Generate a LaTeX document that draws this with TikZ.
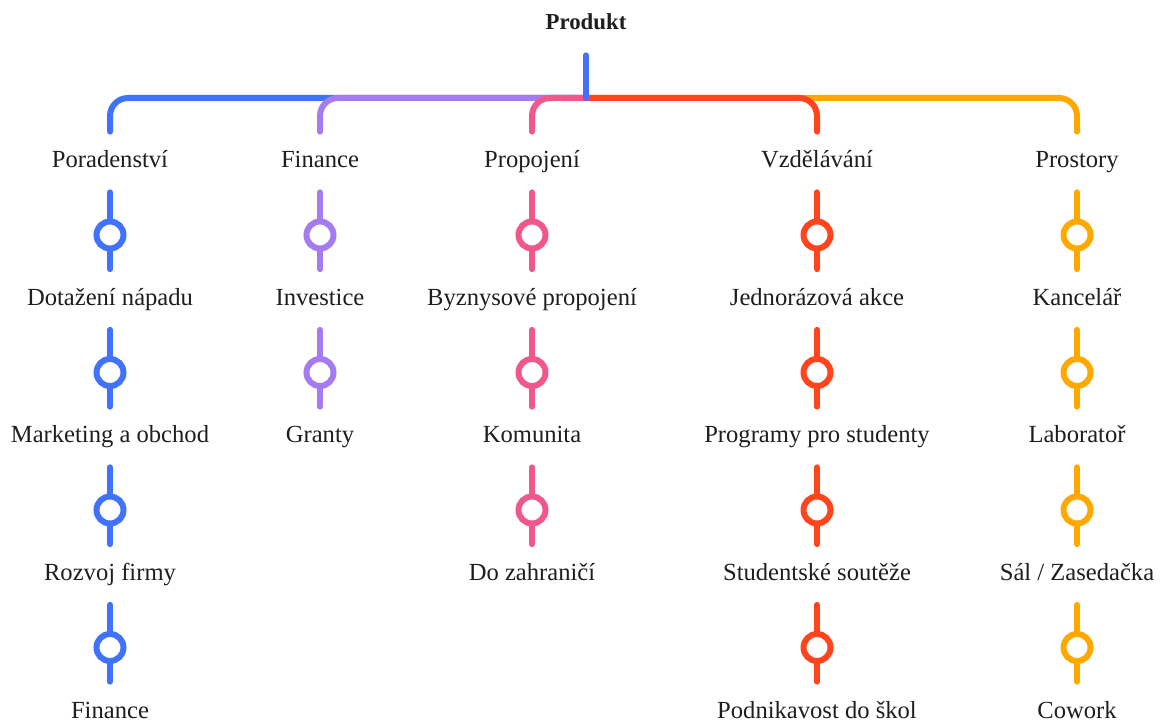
\documentclass[tikz,border=0pt]{standalone}
\usepackage{fontspec}
\setmainfont{Liberation Serif}
\usepackage{tikz}
\usepackage{xcolor}

\definecolor{cblue}{RGB}{64,114,252}
\definecolor{cpurple}{RGB}{164,124,240}
\definecolor{cpink}{RGB}{240,88,140}
\definecolor{cred}{RGB}{255,68,30}
\definecolor{corange}{RGB}{255,168,0}
\definecolor{ctext}{RGB}{30,30,30}

\begin{document}
\begin{tikzpicture}[x=0.02cm, y=-0.02cm,
    lbl/.style={inner sep=0, text height=0.72cm, text depth=0.48cm, text=ctext, font=\fontsize{14}{16}\selectfont},
    rootlbl/.style={inner sep=0, text height=0.74cm, text depth=0.5cm, text=ctext, font=\fontsize{13}{15}\selectfont\bfseries},
    wire/.style={line width=0.12cm, line cap=round},
    branch/.style={wire, rounded corners=0.36cm},
    pin/.style={circle, fill=white, line width=0.12cm, inner sep=0, minimum size=0.54cm}]
\useasboundingbox (0,0) rectangle (1165,722);

% root and top bar
\node [rootlbl] (root) at (586,24) {Produkt};
\coordinate (hub) at (586,98);

\node [lbl] (pora) at (110,162) {Poradenství};
\node [lbl] (fin) at (320,162) {Finance};
\node [lbl] (prop) at (532,162) {Propojení};
\node [lbl] (vzd) at (817,162) {Vzdělávání};
\node [lbl] (pros) at (1077,162) {Prostory};

\draw [branch, corange] (hub) -| (pros.north);
\draw [branch, cred] (hub) -| (vzd.north);
\draw [branch, cblue] (hub) -| (pora.north);
\draw [branch, cpurple] (hub) -| (fin.north);
\draw [branch, cpink] (hub) -| (prop.north);
\draw [wire, cblue] (root.south) -- (hub);

% Poradenstvi
\node [lbl] (pora1) at (110,299.5) {Dotažení nápadu};
\node [lbl] (pora2) at (110,437) {Marketing a obchod};
\node [lbl] (pora3) at (110,574.5) {Rozvoj firmy};
\node [lbl] (pora4) at (110,712) {Finance};
\draw [wire, cblue] (pora) -- (pora1);
\draw [wire, cblue] (pora1) -- (pora2);
\draw [wire, cblue] (pora2) -- (pora3);
\draw [wire, cblue] (pora3) -- (pora4);
\node [pin, draw=cblue] (pora-p1) at (110,235) {};
\node [pin, draw=cblue] (pora-p2) at (110,372.5) {};
\node [pin, draw=cblue] (pora-p3) at (110,510) {};
\node [pin, draw=cblue] (pora-p4) at (110,647.5) {};

% Finance
\node [lbl] (fin1) at (320,299.5) {Investice};
\node [lbl] (fin2) at (320,437) {Granty};
\draw [wire, cpurple] (fin) -- (fin1);
\draw [wire, cpurple] (fin1) -- (fin2);
\node [pin, draw=cpurple] (fin-p1) at (320,235) {};
\node [pin, draw=cpurple] (fin-p2) at (320,372.5) {};

% Propojeni
\node [lbl] (prop1) at (532,299.5) {Byznysové propojení};
\node [lbl] (prop2) at (532,437) {Komunita};
\node [lbl] (prop3) at (532,574.5) {Do zahraničí};
\draw [wire, cpink] (prop) -- (prop1);
\draw [wire, cpink] (prop1) -- (prop2);
\draw [wire, cpink] (prop2) -- (prop3);
\node [pin, draw=cpink] (prop-p1) at (532,235) {};
\node [pin, draw=cpink] (prop-p2) at (532,372.5) {};
\node [pin, draw=cpink] (prop-p3) at (532,510) {};

% Vzdelavani
\node [lbl] (vzd1) at (817,299.5) {Jednorázová akce};
\node [lbl] (vzd2) at (817,437) {Programy pro studenty};
\node [lbl] (vzd3) at (817,574.5) {Studentské soutěže};
\node [lbl] (vzd4) at (817,712) {Podnikavost do škol};
\draw [wire, cred] (vzd) -- (vzd1);
\draw [wire, cred] (vzd1) -- (vzd2);
\draw [wire, cred] (vzd2) -- (vzd3);
\draw [wire, cred] (vzd3) -- (vzd4);
\node [pin, draw=cred] (vzd-p1) at (817,235) {};
\node [pin, draw=cred] (vzd-p2) at (817,372.5) {};
\node [pin, draw=cred] (vzd-p3) at (817,510) {};
\node [pin, draw=cred] (vzd-p4) at (817,647.5) {};

% Prostory
\node [lbl] (pros1) at (1077,299.5) {Kancelář};
\node [lbl] (pros2) at (1077,437) {Laboratoř};
\node [lbl] (pros3) at (1077,574.5) {Sál / Zasedačka};
\node [lbl] (pros4) at (1077,712) {Cowork};
\draw [wire, corange] (pros) -- (pros1);
\draw [wire, corange] (pros1) -- (pros2);
\draw [wire, corange] (pros2) -- (pros3);
\draw [wire, corange] (pros3) -- (pros4);
\node [pin, draw=corange] (pros-p1) at (1077,235) {};
\node [pin, draw=corange] (pros-p2) at (1077,372.5) {};
\node [pin, draw=corange] (pros-p3) at (1077,510) {};
\node [pin, draw=corange] (pros-p4) at (1077,647.5) {};

\end{tikzpicture}
\end{document}
